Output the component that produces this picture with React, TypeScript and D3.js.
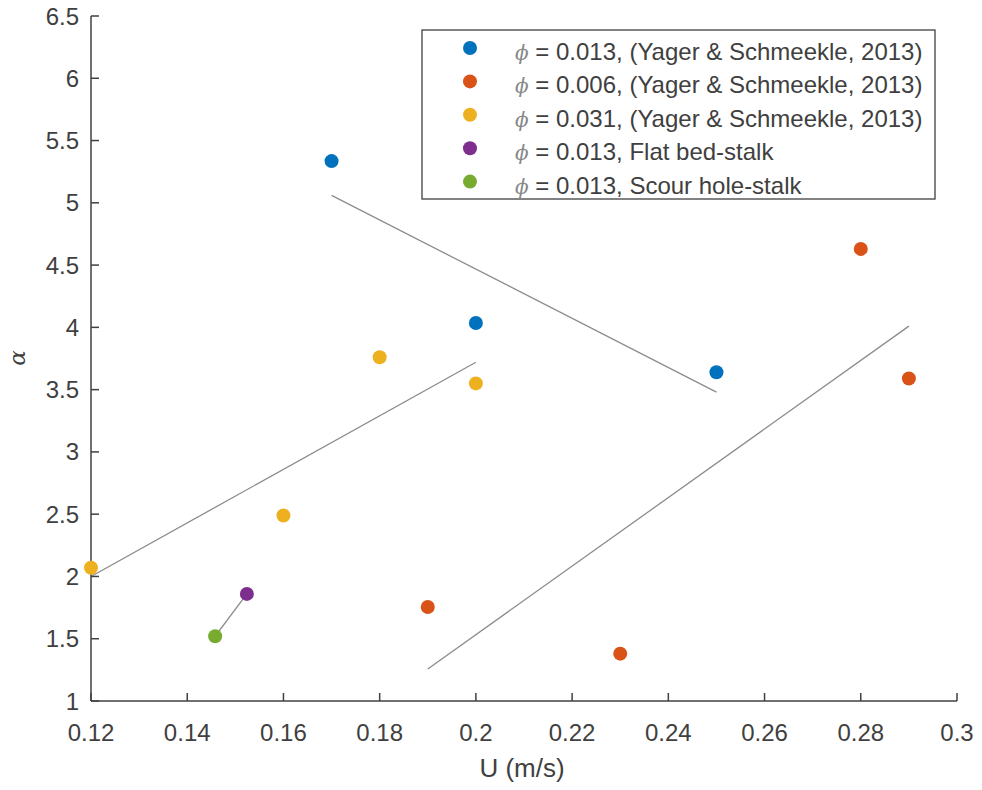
import React from "react";
import * as d3 from "d3";

const seriesNames = [
  "= 0.013, (Yager & Schmeekle, 2013)",
  "= 0.006, (Yager & Schmeekle, 2013)",
  "= 0.031, (Yager & Schmeekle, 2013)",
  "= 0.013, Flat bed-stalk",
  "= 0.013, Scour hole-stalk",
];
const seriesColors = ["#0072BD", "#D95319", "#EDB120", "#7E2F8E", "#77AC30"];

const blueU = [0.17, 0.2, 0.25];
const blueA = [5.335, 4.035, 3.64];
const orangeU = [0.28, 0.29, 0.19, 0.23];
const orangeA = [4.63, 3.59, 1.755, 1.38];
const yellowU = [0.12, 0.18, 0.2, 0.16];
const yellowA = [2.07, 3.76, 3.55, 2.49];
const purpleU = [0.1524];
const purpleA = [1.86];
const greenU = [0.1458];
const greenA = [1.52];

// fitted trend lines (start/end)
const fitBlueU = [0.17, 0.25];
const fitBlueA = [5.06, 3.48];
const fitYellowU = [0.12, 0.2];
const fitYellowA = [2.0, 3.72];
const fitOrangeU = [0.19, 0.29];
const fitOrangeA = [1.257, 4.01];
const fitStalkU = [0.1458, 0.1524];
const fitStalkA = [1.52, 1.86];

const xTicks = [0.12, 0.14, 0.16, 0.18, 0.2, 0.22, 0.24, 0.26, 0.28, 0.3];
const yTicks = [1, 1.5, 2, 2.5, 3, 3.5, 4, 4.5, 5, 5.5, 6, 6.5];

const W = 982;
const H = 790;
const left = 91;
const right = 957;
const top = 16;
const bottom = 701;

export default function App() {
  const x = d3.scaleLinear().domain([0.12, 0.3]).range([left, right]);
  const y = d3.scaleLinear().domain([1, 6.5]).range([bottom, top]);
  const line = d3
    .line<[number, number]>()
    .x((d) => x(d[0]))
    .y((d) => y(d[1]));

  const series = [
    { u: blueU, a: blueA },
    { u: orangeU, a: orangeA },
    { u: yellowU, a: yellowA },
    { u: purpleU, a: purpleA },
    { u: greenU, a: greenA },
  ];
  const fits = [
    { u: fitBlueU, a: fitBlueA },
    { u: fitYellowU, a: fitYellowA },
    { u: fitOrangeU, a: fitOrangeA },
    { u: fitStalkU, a: fitStalkA },
  ];
  const textColor = "#404040";
  const font = "'Liberation Sans', Arial, Helvetica, sans-serif";
  const fs = 24;

  const fmt = (v: number) => String(+v.toFixed(2));

  return (
    <svg
      width={W}
      height={H}
      style={{ position: "absolute", left: 0, top: 0, background: "#fff" }}
      fontFamily={font}
    >
      <rect x={0} y={0} width={W} height={H} fill="#fff" />
      {fits.map((f, i) => (
        <path
          key={"f" + i}
          d={line(f.u.map((u, j) => [u, f.a[j]]) as [number, number][]) || ""}
          stroke="#8c8c8c"
          strokeWidth={1.3}
          fill="none"
        />
      ))}
      {/* axes */}
      <line x1={left} x2={right} y1={bottom} y2={bottom} stroke={textColor} strokeWidth={1.5} />
      <line x1={left} x2={left} y1={top} y2={bottom} stroke={textColor} strokeWidth={1.5} />
      {xTicks.map((t) => (
        <g key={"x" + t}>
          <line x1={x(t)} x2={x(t)} y1={bottom} y2={bottom - 8} stroke={textColor} strokeWidth={1.5} />
          <text x={x(t)} y={bottom + 40} textAnchor="middle" fontSize={fs} fill={textColor}>
            {fmt(t)}
          </text>
        </g>
      ))}
      {yTicks.map((t) => (
        <g key={"y" + t}>
          <line x1={left} x2={left + 8} y1={y(t)} y2={y(t)} stroke={textColor} strokeWidth={1.5} />
          <text x={left - 12} y={y(t) + 8.5} textAnchor="end" fontSize={fs} fill={textColor}>
            {fmt(t)}
          </text>
        </g>
      ))}
      <text x={522} y={777} textAnchor="middle" fontSize={26} fill={textColor}>
        U (m/s)
      </text>
      <text
        transform={`translate(25, 358) rotate(-90)`}
        textAnchor="middle"
        fontSize={23}
        fill={textColor}
        fontFamily="'DejaVu Serif', serif"
        fontStyle="italic"
      >
        α
      </text>
      {series.map((s, i) =>
        s.u.map((u, j) => (
          <circle key={"p" + i + "-" + j} cx={x(u)} cy={y(s.a[j])} r={7} fill={seriesColors[i]} />
        ))
      )}
      {/* legend */}
      <rect x={422} y={30} width={513} height={169} fill="#fff" stroke="#404040" strokeWidth={1.3} />
      {seriesNames.map((n, i) => (
        <g key={"l" + i}>
          <circle cx={470} cy={48 + i * 33.4} r={7} fill={seriesColors[i]} />
          <text x={515} y={48 + i * 33.4 + 12} fontSize={fs} fill={textColor}>
            <tspan fontFamily="'DejaVu Serif', serif" fontStyle="italic" fill="#888" fontSize={20}>ϕ</tspan>
            <tspan> {n}</tspan>
          </text>
        </g>
      ))}
    </svg>
  );
}
